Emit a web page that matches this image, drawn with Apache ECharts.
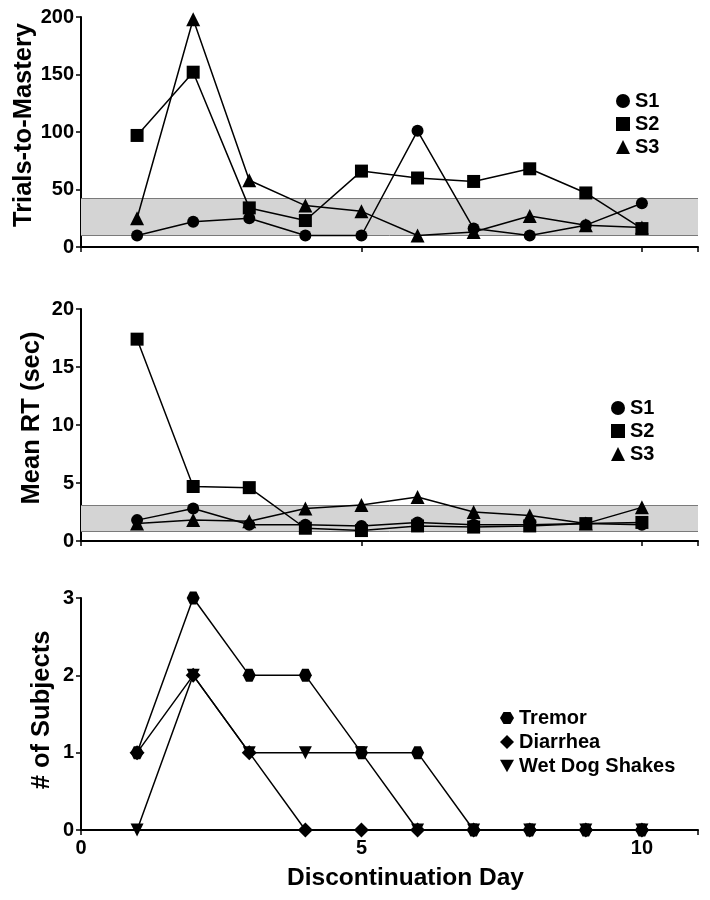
<!DOCTYPE html>
<html>
<head>
<meta charset="utf-8">
<script src="https://cdn.jsdelivr.net/npm/echarts@6/dist/echarts.min.js"></script>
<style>
  html, body { margin: 0; padding: 0; background: #fff; }
  #chart { width: 710px; height: 900px; }
</style>
</head>
<body>
<div id="chart"></div>
<script>
// discontinuation days
var days = [1, 2, 3, 4, 5, 6, 7, 8, 9, 10];

// trials-to-mastery per subject
var s1Trials = [10, 22, 25, 10, 10, 101, 16, 10, 19, 38];
var s2Trials = [97, 152, 34, 23, 66, 60, 57, 68, 47, 16];
var s3Trials = [25, 198, 58, 36, 31, 10, 13, 27, 19, 17];
var trialsBand = [10, 42];

// mean RT (sec) per subject
var s1RT = [1.8, 2.8, 1.4, 1.4, 1.3, 1.6, 1.4, 1.4, 1.5, 1.4];
var s2RT = [17.4, 4.7, 4.6, 1.1, 0.9, 1.3, 1.2, 1.3, 1.5, 1.6];
var s3RT = [1.5, 1.8, 1.7, 2.8, 3.1, 3.8, 2.5, 2.2, 1.5, 2.9];
var rtBand = [0.8, 3.1];

// number of subjects with withdrawal signs
var tremor = [1, 3, 2, 2, 1, 1, 0, 0, 0, 0];
var diarrhea = [1, 2, 1, 0, 0, 0, 0, 0, 0, 0];
var wetDog = [0, 2, 1, 1, 1, 0, 0, 0, 0, 0];

var FONT = 'Liberation Sans, Arial, sans-serif';
var hexagon = 'path://M0,5 L2.9,0 L8.7,0 L11.6,5 L8.7,10 L2.9,10 Z';
var downTri = 'path://M0,0 L10,0 L5,9 Z';

function pairs(ys) {
  return days.map(function (d, i) { return [d, ys[i]]; });
}

function lineSeries(name, ys, idx, symbol, size) {
  return {
    name: name,
    type: 'line',
    xAxisIndex: idx,
    yAxisIndex: idx,
    data: pairs(ys),
    symbol: symbol,
    symbolSize: size,
    showAllSymbol: true,
    lineStyle: { color: '#000', width: 1.5 },
    itemStyle: { color: '#000' },
    z: 5
  };
}

function band(range) {
  return {
    silent: true,
    itemStyle: { color: '#d4d4d4' },
    data: [[{ yAxis: range[0] }, { yAxis: range[1] }]]
  };
}
function bandLines(range) {
  return {
    silent: true,
    symbol: 'none',
    label: { show: false },
    lineStyle: { color: '#7a7a7a', type: 'solid', width: 1 },
    data: [{ yAxis: range[0] }, { yAxis: range[1] }]
  };
}

function xAxis(idx, showLabel) {
  return {
    type: 'value', gridIndex: idx, min: 0, max: 11, interval: 5,
    axisLine: { lineStyle: { color: '#000', width: 2 } },
    axisTick: { show: true, length: 5, lineStyle: { color: '#000', width: 1.5 } },
    axisLabel: { show: showLabel, color: '#000', fontFamily: FONT, fontWeight: 'bold', fontSize: 20, margin: 8,
      formatter: function (v) { return v > 10 ? '' : v; } },
    splitLine: { show: false }
  };
}

function yAxis(idx, name, max, interval, gap, shift) {
  return {
    type: 'value', gridIndex: idx, min: 0, max: max, interval: interval,
    name: name, nameLocation: 'middle', nameGap: gap, nameMoveOverlap: false,
    nameTextStyle: { color: '#000', fontFamily: FONT, fontWeight: 'bold', fontSize: 25.5, padding: [0, 0, 0, shift] },
    axisLine: { show: true, lineStyle: { color: '#000', width: 2 } },
    axisTick: { show: true, length: 5, lineStyle: { color: '#000', width: 1.5 } },
    axisLabel: { color: '#000', fontFamily: FONT, fontWeight: 'bold', fontSize: 20, margin: 7 },
    splitLine: { show: false }
  };
}

function legend(names, icons, left, top, gap) {
  return {
    data: names.map(function (n, i) { return { name: n, icon: icons[i] }; }),
    orient: 'vertical', left: left, top: top,
    itemWidth: 14, itemHeight: 14, itemGap: gap, itemTextGap: 10,
    textStyle: { color: '#000', fontFamily: FONT, fontWeight: 'bold', fontSize: 20 },
    inactiveColor: '#000'
  };
}

var s1Top = lineSeries('S1', s1Trials, 0, 'circle', 12);
s1Top.markArea = band(trialsBand);
s1Top.markLine = bandLines(trialsBand);
var s1Mid = lineSeries('S1', s1RT, 1, 'circle', 12);
s1Mid.markArea = band(rtBand);
s1Mid.markLine = bandLines(rtBand);

var option = {
  backgroundColor: '#fff',
  animation: false,
  grid: [
    { left: 81, top: 17, width: 617, height: 230, outerBoundsMode: 'none' },
    { left: 81, top: 309, width: 617, height: 232, outerBoundsMode: 'none' },
    { left: 81, top: 598, width: 617, height: 232, outerBoundsMode: 'none' }
  ],
  xAxis: [xAxis(0, false), xAxis(1, false),
    Object.assign(xAxis(2, true), {
      name: 'Discontinuation Day', nameLocation: 'middle', nameGap: 36, nameMoveOverlap: false,
      nameTextStyle: { color: '#000', fontFamily: FONT, fontWeight: 'bold', fontSize: 24.5, padding: [0, 0, 0, 32] }
    })],
  yAxis: [
    yAxis(0, 'Trials-to-Mastery', 200, 50, 44, 14),
    yAxis(1, 'Mean RT (sec)', 20, 5, 36, 14),
    yAxis(2, '# of Subjects', 3, 1, 26, 8)
  ],
  legend: [
    legend(['S1', 'S2', 'S3'], ['circle', 'rect', 'triangle'], 611, 86, 3),
    legend(['S1', 'S2', 'S3'], ['circle', 'rect', 'triangle'], 606, 393, 3),
    legend(['Tremor', 'Diarrhea', 'Wet Dog Shakes'], [hexagon, 'diamond', downTri], 495, 703, 4)
  ],
  series: [
    s1Top,
    lineSeries('S2', s2Trials, 0, 'rect', 13),
    lineSeries('S3', s3Trials, 0, 'triangle', 14),
    s1Mid,
    lineSeries('S2', s2RT, 1, 'rect', 13),
    lineSeries('S3', s3RT, 1, 'triangle', 14),
    lineSeries('Tremor', tremor, 2, hexagon, 13),
    lineSeries('Diarrhea', diarrhea, 2, 'diamond', 15),
    lineSeries('Wet Dog Shakes', wetDog, 2, downTri, 13)
  ]
};

var chart = echarts.init(document.getElementById('chart'), null, { renderer: 'canvas' });
chart.setOption(option);
</script>
</body>
</html>
